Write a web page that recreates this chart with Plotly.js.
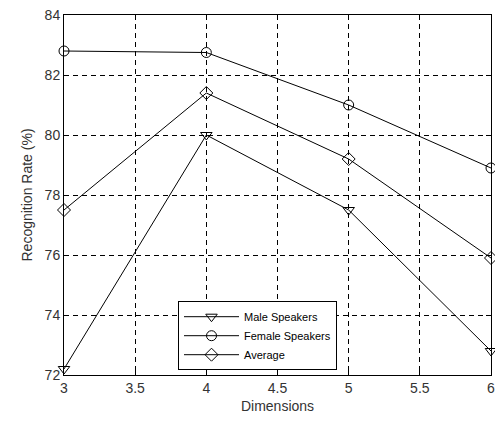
<!DOCTYPE html>
<html>
<head>
<meta charset="utf-8">
<script src="https://cdn.plot.ly/plotly-3.0.1.min.js"></script>
<style>html,body{margin:0;padding:0;background:#fff}#chart{width:495px;height:428px}</style>
</head>
<body>
<div id="chart"></div>
<script>
const dimensions = [3, 4, 5, 6];
const maleSpeakers = [72.2, 80.0, 77.5, 72.8];
const femaleSpeakers = [82.8, 82.75, 81.0, 78.9];
const average = [77.5, 81.4, 79.2, 75.9];
const seriesNames = ["Male Speakers", "Female Speakers", "Average"];

function trace(y, name, symbol) {
  return {
    x: dimensions, y: y, name: name, type: "scatter", mode: "lines+markers",
    line: {color: "#000", width: 1},
    marker: {symbol: symbol, size: 10, color: "#000", line: {color: "#000", width: 1}},
    cliponaxis: false
  };
}
const data = [
  trace(maleSpeakers, seriesNames[0], "triangle-down-open"),
  trace(femaleSpeakers, seriesNames[1], "circle-open"),
  trace(average, seriesNames[2], "diamond-open")
];
const axisCommon = {
  showline: true, linecolor: "#000", linewidth: 1, mirror: "ticks",
  ticks: "inside", ticklen: 5, tickcolor: "#000",
  showgrid: true, gridcolor: "#000", griddash: "5px,4px", gridwidth: 1,
  zeroline: false, ticklabeloverflow: "allow",
  tickfont: {family: "Liberation Sans, Arial, sans-serif", size: 14, color: "#333"}
};
const layout = {
  width: 495, height: 428,
  margin: {l: 64, r: 4, t: 15, b: 53},
  paper_bgcolor: "#fff", plot_bgcolor: "#fff",
  showlegend: true,
  legend: {
    x: 0.267, y: 0.205, xanchor: "left", yanchor: "top",
    bgcolor: "#fff", bordercolor: "#000", borderwidth: 1,
    font: {family: "Liberation Sans, Arial, sans-serif", size: 11, color: "#000"},
    tracegroupgap: 0, itemwidth: 55
  },
  xaxis: Object.assign({}, axisCommon, {
    range: [3, 6], dtick: 0.5, tick0: 3,
    title: {text: "Dimensions", font: {family: "Liberation Sans, Arial, sans-serif", size: 14, color: "#333"}, standoff: 6}
  }),
  yaxis: Object.assign({}, axisCommon, {
    range: [72, 84], dtick: 2, tick0: 72,
    title: {text: "Recognition Rate (%)", font: {family: "Liberation Sans, Arial, sans-serif", size: 14, color: "#333"}, standoff: 8}
  })
};
Plotly.newPlot("chart", data, layout, {displayModeBar: false, staticPlot: true});
</script>
</body>
</html>
